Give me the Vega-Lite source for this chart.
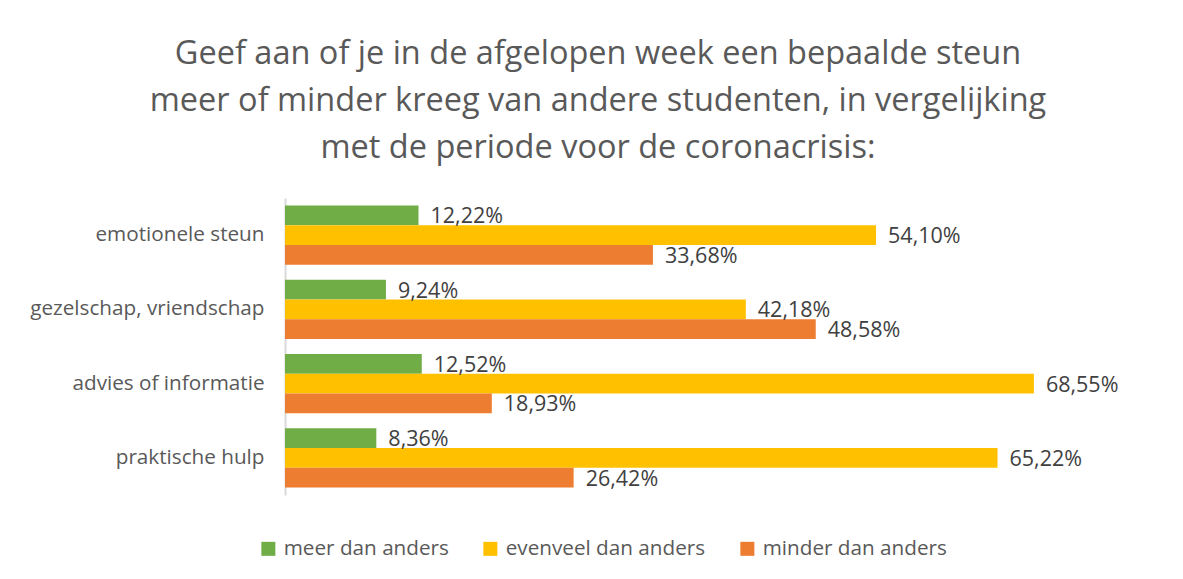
{
  "$schema": "https://vega.github.io/schema/vega-lite/v6.json",
  "width": 874,
  "height": 297,
  "autosize": {"type": "none"},
  "padding": {"left": 285, "top": 198, "right": 24, "bottom": 84},
  "background": "white",
  "config": {
    "locale": {"number": {"decimal": ",", "thousands": ".", "grouping": [3], "currency": ["€", ""]}},
    "view": {"stroke": null},
    "font": "Open Sans"
  },
  "title": {
    "text": ["Geef aan of je in de afgelopen week een bepaalde steun", "meer of minder kreeg van andere studenten, in vergelijking", "met de periode voor de coronacrisis:"],
    "anchor": "middle",
    "frame": "group",
    "dx": -124,
    "offset": 34,
    "font": "Open Sans",
    "fontSize": 32.5,
    "fontWeight": "normal",
    "color": "#595959",
    "lineHeight": 47,
    "limit": 0
  },
  "data": {
    "values": [
      {"steun": "emotionele steun", "reeks": "meer dan anders", "pct": 0.1222},
      {"steun": "emotionele steun", "reeks": "evenveel dan anders", "pct": 0.5410},
      {"steun": "emotionele steun", "reeks": "minder dan anders", "pct": 0.3368},
      {"steun": "gezelschap, vriendschap", "reeks": "meer dan anders", "pct": 0.0924},
      {"steun": "gezelschap, vriendschap", "reeks": "evenveel dan anders", "pct": 0.4218},
      {"steun": "gezelschap, vriendschap", "reeks": "minder dan anders", "pct": 0.4858},
      {"steun": "advies of informatie", "reeks": "meer dan anders", "pct": 0.1252},
      {"steun": "advies of informatie", "reeks": "evenveel dan anders", "pct": 0.6855},
      {"steun": "advies of informatie", "reeks": "minder dan anders", "pct": 0.1893},
      {"steun": "praktische hulp", "reeks": "meer dan anders", "pct": 0.0836},
      {"steun": "praktische hulp", "reeks": "evenveel dan anders", "pct": 0.6522},
      {"steun": "praktische hulp", "reeks": "minder dan anders", "pct": 0.2642}
    ]
  },
  "encoding": {
    "y": {
      "field": "steun",
      "type": "nominal",
      "sort": ["emotionele steun", "gezelschap, vriendschap", "advies of informatie", "praktische hulp"],
      "scale": {"paddingInner": 0.2, "paddingOuter": 0.1},
      "axis": {
        "title": null,
        "ticks": false,
        "labelFont": "Open Sans",
        "labelFontSize": 20.7,
        "labelColor": "#595959",
        "labelPadding": 21,
        "labelLimit": 0,
        "domainColor": "#d9d9d9",
        "domainWidth": 2
      }
    },
    "yOffset": {
      "field": "reeks",
      "type": "nominal",
      "sort": ["meer dan anders", "evenveel dan anders", "minder dan anders"],
      "scale": {"paddingInner": 0, "paddingOuter": 0}
    },
    "x": {
      "field": "pct",
      "type": "quantitative",
      "scale": {"domain": [0, 0.8]},
      "axis": null
    }
  },
  "layer": [
    {
      "mark": {"type": "bar"},
      "encoding": {
        "color": {
          "field": "reeks",
          "type": "nominal",
          "sort": ["meer dan anders", "evenveel dan anders", "minder dan anders"],
          "scale": {
            "domain": ["meer dan anders", "evenveel dan anders", "minder dan anders"],
            "range": ["#70AD47", "#FFC000", "#ED7D31"]
          },
          "legend": {
            "title": null,
            "orient": "none",
            "legendX": -27,
            "legendY": 340,
            "direction": "horizontal",
            "columns": 3,
            "symbolType": "square",
            "symbolSize": 196,
            "symbolStrokeWidth": 0,
            "labelFont": "Open Sans",
            "labelFontSize": 20.7,
            "labelColor": "#595959",
            "labelOffset": 5,
            "labelLimit": 0,
            "columnPadding": 31
          }
        }
      }
    },
    {
      "mark": {"type": "text", "align": "left", "baseline": "middle", "dx": 12, "dy": 2, "font": "Open Sans", "fontSize": 21.5, "color": "#404040"},
      "encoding": {
        "text": {"field": "pct", "type": "quantitative", "format": ".2%"}
      }
    }
  ]
}
